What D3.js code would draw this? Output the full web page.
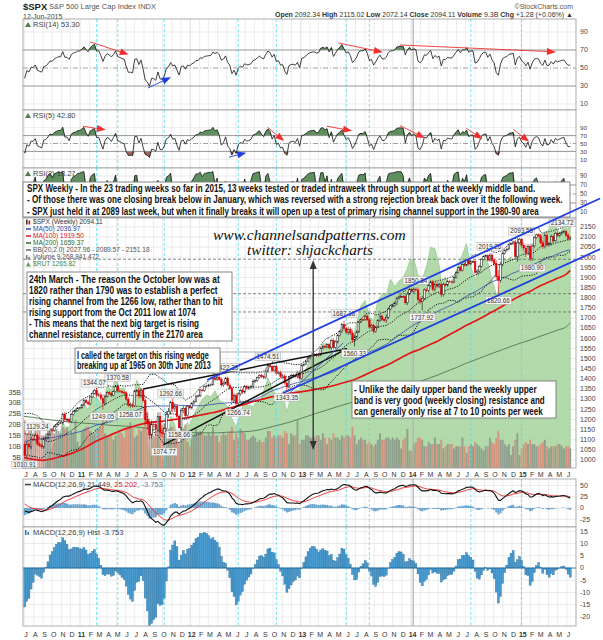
<!DOCTYPE html>
<html>
<head>
<meta charset="utf-8">
<script src="https://cdn.jsdelivr.net/npm/d3@7"></script>
<style>
  body { margin: 0; background: #fff; }
  svg { display: block; }
  text { font-family: "Liberation Sans", Arial, sans-serif; }
</style>
</head>
<body>
<div id="chart"></div>
<script>
// weekly closes Jul 2009 - Jun 2010, only used to warm up the indicators
var warmClose = [896.42, 879.13, 940.38, 979.26, 987.48, 1010.48, 1004.09, 1026.13, 1028.93, 1016.40, 1042.73, 1068.30, 1044.38, 1025.21, 1071.49, 1087.68, 1079.60, 1036.19, 1069.30, 1093.48, 1091.38, 1091.49, 1105.98, 1106.41, 1102.47, 1126.48, 1115.10,
  1144.98, 1136.03, 1091.76, 1073.87, 1066.19, 1075.51, 1109.17, 1104.49, 1138.70, 1149.99, 1159.90, 1166.59, 1178.10, 1194.37, 1192.13, 1217.28, 1186.69, 1110.88, 1135.68, 1087.69, 1089.41, 1064.88, 1091.60, 1117.51, 1076.76];

// weekly closes shown on the chart (2 Jul 2010 - 12 Jun 2015)
var close2010 = [1022.58, 1077.96, 1064.88, 1102.66, 1101.60, 1121.64, 1079.25, 1071.69, 1064.59, 1104.51, 1109.55, 1125.59, 1148.67, 1146.24, 1165.15, 1176.19, 1183.08, 1183.26, 1225.85, 1199.21, 1199.73, 1189.40, 1224.71, 1240.40, 1243.91, 1256.77, 1257.64];
var close2011 = [1271.50, 1293.24, 1283.35, 1276.34, 1310.87, 1329.15, 1343.01, 1319.88, 1321.15, 1304.28, 1279.20, 1313.80, 1332.41, 1328.17, 1319.68, 1337.38, 1363.61, 1340.20, 1337.77, 1333.27, 1331.10, 1300.16, 1270.98, 1271.50, 1268.45, 1339.67, 1343.80, 1316.14, 1345.02, 1292.28, 1199.38, 1178.81, 1123.53, 1176.80, 1173.97, 1154.23, 1216.01, 1136.43, 1131.42, 1155.46, 1224.58, 1238.25, 1285.09, 1253.23, 1263.85, 1215.65, 1158.67, 1244.28, 1255.19, 1219.66, 1265.33, 1257.60];
var close2012 = [1277.81, 1289.09, 1315.38, 1316.33, 1344.90, 1342.64, 1361.23, 1365.74, 1369.63, 1370.87, 1404.17, 1397.11, 1408.47, 1398.08, 1370.26, 1378.53, 1403.36, 1369.10, 1353.39, 1295.22, 1317.82, 1278.04, 1325.66, 1342.84, 1335.02, 1362.16, 1354.68, 1356.78, 1362.66, 1385.97, 1390.99, 1405.87, 1418.16, 1411.13, 1406.58, 1437.92, 1465.77, 1460.15, 1440.67, 1460.93, 1428.59, 1433.19, 1411.94, 1414.20, 1379.85, 1359.88, 1409.15, 1416.18, 1418.07, 1413.58, 1430.15, 1402.43];
var close2013 = [1466.47, 1472.05, 1485.98, 1502.96, 1513.17, 1517.93, 1519.79, 1515.60, 1518.20, 1551.18, 1560.70, 1556.89, 1569.19, 1553.28, 1588.85, 1555.25, 1582.24, 1614.42, 1633.70, 1667.47, 1649.60, 1630.74, 1643.38, 1626.73, 1592.43, 1606.28, 1631.89, 1680.19, 1692.09, 1691.65, 1709.67, 1691.42, 1655.83, 1663.50, 1632.97, 1655.17, 1687.99, 1709.91, 1691.75, 1690.50, 1703.20, 1744.50, 1759.77, 1761.64, 1770.61, 1798.18, 1804.76, 1805.81, 1805.09, 1775.32, 1818.32, 1841.40];
var close2014 = [1831.37, 1842.37, 1838.70, 1790.29, 1782.59, 1797.02, 1838.63, 1836.25, 1859.45, 1878.04, 1841.13, 1866.52, 1857.62, 1865.09, 1815.69, 1864.85, 1863.40, 1881.14, 1878.48, 1877.86, 1900.53, 1923.57, 1949.44, 1936.16, 1962.87, 1960.96, 1985.44, 1967.57, 1978.22, 1978.34, 1925.15, 1931.59, 1955.06, 1988.40, 2003.37, 2007.71, 1985.54, 2010.40, 1982.85, 1967.90, 1906.13, 1886.76, 1964.58, 2018.05, 2031.92, 2039.82, 2063.50, 2067.56, 2075.37, 2002.33, 2070.65, 2088.77];
var close2015 = [2058.20, 2044.81, 2019.42, 2051.82, 1994.99, 2055.47, 2096.99, 2110.30, 2104.50, 2071.26, 2053.40, 2108.10, 2061.02, 2066.96, 2102.06, 2081.18, 2117.69, 2108.29, 2116.10, 2122.73, 2126.06, 2107.39, 2092.83, 2094.11];

// weekly shadow beyond the candle body, points
var wick2010 = [12,14,10,12,8,10,9,8,9,10,7,8,6,7,8,6,7,6,9,10,8,9,7,6,5,4,4];
var wick2011 = [6,7,8,9,6,5,6,12,10,12,20,8,7,8,9,6,5,9,8,7,8,8,10,12,11,7,6,12,10,9,25,30,22,18,15,20,18,22,20,25,15,18,14,18,16,12,10,12,14,10,6,6];
var wick2012 = [8,7,6,7,6,5,6,5,6,7,5,6,6,8,10,9,7,8,9,10,11,12,10,9,10,8,9,10,8,12,6,5,4,6,7,7,8,6,6,6,8,7,8,10,9,12,6,7,7,8,10,12];
var wick2013 = [6,5,5,5,6,6,5,8,7,6,5,7,5,8,9,12,8,7,6,8,12,10,14,10,15,12,8,6,5,5,6,7,8,8,9,6,6,8,7,9,15,8,6,8,8,7,6,5,6,10,12,6];
var wick2014 = [7,8,7,12,15,12,8,8,9,8,10,9,10,10,14,10,8,9,8,7,6,6,6,6,6,6,6,8,7,6,10,9,8,6,5,6,7,8,10,12,18,30,12,10,6,5,5,4,7,10,25,6];
var wick2015 = [12,15,18,12,14,12,8,6,6,10,12,10,10,8,10,10,8,10,9,8,6,8,12,10];

// weekly volume, billions of shares
var vol2010 = [22,16,17,18,16,17,19,18,15,15,16,20,17,17,16,18,17,16,19,18,19,15,17,16,22,12,10];
var vol2011 = [17,18,19,19,17,16,16,18,18,19,24,16,15,15,16,13,15,17,17,16,14,18,19,21,19,14,15,18,17,19,24,26,21,17,15,17,20,22,20,19,16,18,19,19,17,17,12,21,18,20,12,10];
var vol2012 = [15,15,18,16,17,16,15,15,16,15,19,15,15,12,15,16,15,16,17,19,13,16,14,18,17,16,13,13,14,15,14,12,13,12,12,14,17,17,14,15,14,15,15,14,17,16,11,16,15,15,22,11];
var vol2013 = [13,13,15,15,14,14,14,15,15,13,16,14,11,14,13,16,14,14,13,15,14,15,15,14,19,15,11,13,14,13,13,11,12,11,10,11,13,16,13,13,14,14,13,14,13,14,13,9,13,14,18,8];
var vol2014 = [8,11,12,14,14,13,10,10,12,11,11,14,11,11,13,9,10,11,11,11,9,10,10,10,14,10,7,10,11,10,12,11,10,9,8,10,10,14,12,11,14,17,13,13,11,10,11,6,10,13,16,6];
var vol2015 = [9,11,12,11,13,11,11,10,10,11,12,13,10,9,10,10,10,11,11,10,9,10,10,9];

// monthly closes Sep 2006 - Jun 2015, used for the 100 and 200 week averages
var monthlyClose = [1336,1378,1401,1418,
  1438,1407,1421,1482,1531,1503,1455,1474,1527,1549,1481,1468,
  1379,1331,1323,1386,1400,1280,1267,1283,1166,969,896,903,
  826,735,798,873,919,919,987,1021,1057,1036,1096,1115,
  1074,1104,1169,1187,1089,1031,1102,1049,1141,1183,1181,1258,
  1286,1327,1326,1364,1345,1321,1292,1219,1131,1253,1247,1258,
  1312,1366,1408,1398,1310,1362,1379,1407,1441,1412,1416,1426,
  1498,1515,1569,1598,1631,1606,1686,1633,1682,1757,1806,1848,
  1783,1859,1872,1884,1924,1960,1931,2003,1972,2018,2068,2059,
  1995,2105,2068,2086,2107,2094];

// $RUT overlay
var rutPoints = [["2010-07-02",605],["2010-07-16",620],["2010-07-30",651],["2010-08-13",628],["2010-08-27",608],["2010-09-10",638],["2010-09-24",673],["2010-10-08",697],["2010-10-22",703],["2010-11-05",750],["2010-11-19",728],["2010-12-03",751],["2010-12-17",786],["2010-12-31",784],
  ["2011-01-14",800],["2011-01-28",782],["2011-02-11",815],["2011-02-25",814],["2011-03-11",800],["2011-03-18",793],["2011-04-01",846],["2011-04-15",830],["2011-04-29",865],["2011-05-13",835],["2011-05-27",839],["2011-06-10",790],["2011-06-24",800],["2011-07-08",858],["2011-07-22",835],["2011-08-05",745],["2011-08-19",664],["2011-09-02",706],["2011-09-16",713],["2011-09-30",644],["2011-10-07",660],["2011-10-21",705],["2011-10-28",765],["2011-11-11",744],["2011-11-25",667],["2011-12-09",735],["2011-12-23",749],["2011-12-30",741],
  ["2012-01-13",770],["2012-01-27",791],["2012-02-10",809],["2012-02-24",820],["2012-03-09",815],["2012-03-23",831],["2012-04-06",807],["2012-04-20",800],["2012-05-04",790],["2012-05-18",760],["2012-06-01",737],["2012-06-15",777],["2012-06-29",798],["2012-07-13",793],["2012-07-27",791],["2012-08-10",804],["2012-08-24",812],["2012-09-14",864],["2012-09-28",837],["2012-10-12",820],["2012-10-26",818],["2012-11-09",800],["2012-11-16",775],["2012-11-30",822],["2012-12-14",832],["2012-12-28",831],
  ["2013-01-04",875],["2013-01-18",886],["2013-02-01",911],["2013-02-15",925],["2013-03-01",914],["2013-03-15",951],["2013-03-28",952],["2013-04-12",941],["2013-04-19",907],["2013-05-03",956],["2013-05-17",995],["2013-05-31",984],["2013-06-14",978],["2013-06-21",960],["2013-07-05",1005],["2013-07-19",1049],["2013-08-02",1062],["2013-08-16",1021],["2013-08-30",1011],["2013-09-13",1062],["2013-09-27",1079],["2013-10-11",1076],["2013-10-25",1117],["2013-11-08",1098],["2013-11-22",1112],["2013-12-06",1121],["2013-12-20",1146],["2013-12-27",1163],
  ["2014-01-10",1169],["2014-01-24",1128],["2014-02-07",1117],["2014-02-21",1150],["2014-03-07",1199],["2014-03-21",1195],["2014-04-04",1153],["2014-04-11",1110],["2014-04-25",1122],["2014-05-09",1097],["2014-05-23",1124],["2014-06-06",1150],["2014-06-20",1180],["2014-07-03",1208],["2014-07-18",1151],["2014-08-01",1114],["2014-08-15",1144],["2014-08-29",1174],["2014-09-12",1160],["2014-09-26",1115],["2014-10-10",1080],["2014-10-17",1082],["2014-10-31",1174],["2014-11-14",1166],["2014-11-28",1173],["2014-12-12",1158],["2014-12-26",1216],
  ["2015-01-09",1190],["2015-01-16",1176],["2015-01-30",1165],["2015-02-13",1219],["2015-02-27",1233],["2015-03-13",1232],["2015-03-27",1240],["2015-04-10",1254],["2015-04-24",1256],["2015-05-08",1231],["2015-05-22",1256],["2015-06-05",1244],["2015-06-12",1266]];

// labelled weekly highs (h) and lows (l)
var extremes = [["2010-07-02",1010.91,"l"],["2010-08-13",1129.24,"h"],["2011-02-18",1344.07,"h"],["2011-03-18",1249.05,"l"],["2011-05-06",1370.58,"h"],["2011-06-17",1258.07,"l"],["2011-10-07",1074.77,"l"],["2011-10-28",1292.66,"h"],["2011-11-25",1158.66,"l"],["2012-04-06",1422.38,"h"],["2012-06-08",1266.74,"l"],["2012-09-14",1474.51,"h"],["2012-11-16",1343.35,"l"],["2013-05-24",1687.18,"h"],["2013-06-28",1560.33,"l"],["2014-01-17",1850.84,"h"],["2014-02-07",1737.92,"l"],["2014-09-19",2019.26,"h"],["2014-10-17",1820.66,"l"],["2015-01-02",2093.55,"h"],["2015-02-06",1980.90,"l"],["2015-05-22",2134.72,"h"]];

var cyanDates = ["2011-02-25","2011-05-06","2011-10-07","2012-06-08","2012-10-12","2013-05-31","2013-08-16","2014-07-18","2015-01-02"];
var levels = [1990, 1820, 1730];

// drawn annotations: [date1, value1, date2, value2, colour]
var rsi14Arrows = [["2011-02-04",79,"2011-06-05",65.6,"red"],["2011-08-14",27.8,"2011-10-23",38.9,"blue"],["2013-05-06",77.8,"2013-09-23",68,"red"],["2013-11-25",75.6,"2015-04-19",68,"red"]];
var rsi5Arrows = [["2011-01-10",93.8,"2011-03-21",85.4,"red"],["2012-05-08",15.3,"2012-06-28",25.4,"blue"],["2012-09-12",91,"2012-11-02",59.4,"red"],["2013-03-28",93.8,"2013-06-13",83,"red"],["2013-11-25",95.5,"2014-02-10",66,"red"],["2014-07-03",88.7,"2014-08-20",63.4,"red"],["2014-12-06",85.4,"2015-01-22",57.6,"red"]];
var channelLines = [["2012-02-26",1394.5,"2015-09-29",2296.8],["2012-11-04",1330.4,"2015-09-29",2046.8]];
var wedgeLines = [["2011-07-29",1350,"2013-06-03",1549],["2011-10-04",1074.77,"2013-06-03",1549]];
var thinBlueLines = [["2012-11-11",1310.7,"2013-05-21",1577]];
var targetArrow = ["2013-02-11",1976,1059];

var note1 = ["SPX Weekly - In the 23 trading weeks so far in 2015, 13 weeks tested or traded intraweek through support at the weekly middle band.",
  "- Of those there was one closing break below in January, which was reversed with a strong rejection break back over it the following week.",
  "- SPX just held it at 2089 last week, but when it finally breaks it will open up a test of primary rising channel support in the 1980-90 area"];
var note2 = ["24th March - The reason the October low was at", "1820 rather than 1790 was to establish a perfect", "rising channel from the 1266 low, rather than to hit", "rising support from the Oct 2011 low at 1074", "- This means that the next big target is rising", "channel resistance, currently in the 2170 area"];
var note3 = ["- Unlike the daily upper band the weekly upper", "band is very good (weekly closing) resistance and", "can generally only rise at 7 to 10 points per week"];
var note4 = ["I called the target on this rising wedge", "breaking up at 1965 on 30th June 2013"];

// ---------------------------------------------------------------
var W = 603, H = 640, L = 23, R = 576;
var parse = d3.timeParse("%Y-%m-%d");
var svg = d3.select("#chart").append("svg").attr("width", W).attr("height", H);

var weeks = d3.timeFriday.range(new Date(2010, 6, 1), new Date(2015, 5, 13));
var closes = [].concat(close2010, close2011, close2012, close2013, close2014, close2015);
var all = warmClose.concat(closes);
var W0 = warmClose.length;
var wicks = [].concat(wick2010, wick2011, wick2012, wick2013, wick2014, wick2015);
var vols = [].concat(vol2010, vol2011, vol2012, vol2013, vol2014, vol2015);

var x = d3.scaleTime().domain([new Date(2010, 5, 27), new Date(2015, 6, 1)]).range([23.2, R]);
var months = d3.timeMonth.range(new Date(2010, 6, 1), new Date(2015, 6, 1));

// indicators
function sma(a, n) {
    return a.map(function(d, i) { return i < n - 1 ? null : d3.mean(a.slice(i - n + 1, i + 1)); });
}
function sdev(a, n) {
    return a.map(function(d, i) {
        if (i < n - 1) return null;
        var s = a.slice(i - n + 1, i + 1), m = d3.mean(s);
        return Math.sqrt(d3.mean(s, function(v) { return (v - m) * (v - m); }));
    });
}
function ema(a, n) {
    var k = 2 / (n + 1), prev = null;
    return a.map(function(d) { prev = prev === null ? d : d * k + prev * (1 - k); return prev; });
}
function rsi(a, n) {
    var out = [null], ag = 0, al = 0;
    for (var i = 1; i < a.length; i++) {
        var ch = a[i] - a[i - 1], g = Math.max(ch, 0), l = Math.max(-ch, 0);
        if (i <= n) {
            ag += g / n; al += l / n;
            out.push(i === n ? 100 - 100 / (1 + ag / al) : null);
        } else {
            ag = (ag * (n - 1) + g) / n; al = (al * (n - 1) + l) / n;
            out.push(al === 0 ? 100 : 100 - 100 / (1 + ag / al));
        }
    }
    return out;
}
var ma50 = sma(all, 50).slice(W0);
var mid = sma(all, 20).slice(W0), sd = sdev(all, 20).slice(W0);
var bbUp = mid.map(function(m, i) { return m + 2 * sd[i]; });
var bbDn = mid.map(function(m, i) { return m - 2 * sd[i]; });
var e12 = ema(all, 12), e26 = ema(all, 26);
var macdAll = e12.map(function(d, i) { return d - e26[i]; });
var sigAll = ema(macdAll, 9);
var macd = macdAll.slice(W0), sig = sigAll.slice(W0);
var hist = macd.map(function(d, i) { return d - sig[i]; });
var r14 = rsi(all, 14).slice(W0), r5 = rsi(all, 5).slice(W0), r2 = rsi(all, 2).slice(W0);

var mStart = new Date(2006, 8, 1);
var maMonthly = [];
monthlyClose.forEach(function(c, k) {
    var d = d3.timeDay.offset(d3.timeMonth.offset(mStart, k + 1), -1);
    if (d > weeks[weeks.length - 1]) d = weeks[weeks.length - 1];
    if (k >= 45) maMonthly.push({date: d,
        ma100: d3.mean(monthlyClose.slice(k - 22, k + 1)),
        ma200: d3.mean(monthlyClose.slice(k - 45, k + 1))});
});

// candles
var fmt = d3.timeFormat("%Y-%m-%d");
var candles = weeks.map(function(d, i) {
    var o = all[W0 + i - 1], c = all[W0 + i];
    return {date: d, o: o, c: c, hi: Math.max(o, c) + wicks[i], lo: Math.min(o, c) - wicks[i], v: vols[i]};
});
extremes.forEach(function(e) {
    var i = weeks.findIndex(function(d) { return fmt(d) === e[0]; });
    if (i < 0) return;
    if (e[2] === "h") candles[i].hi = e[1]; else candles[i].lo = e[1];
});

// ---------------------------------------------------------------
var defs = svg.append("defs");
function clip(id, top, bottom) {
    defs.append("clipPath").attr("id", id).append("rect")
        .attr("x", L).attr("y", top).attr("width", R - L).attr("height", bottom - top);
    return "url(#" + id + ")";
}
function frame(g, top, bottom) {
    g.append("rect").attr("x", L).attr("y", top).attr("width", R - L).attr("height", bottom - top).attr("fill", "#fff");
    g.selectAll(".vg").data(months).enter().append("line")
        .attr("x1", function(d) { return x(d); }).attr("x2", function(d) { return x(d); })
        .attr("y1", top).attr("y2", bottom)
        .attr("stroke", function(d) { return d.getMonth() === 0 ? "#d6d6d6" : "#e9e9e9"; })
        .attr("stroke-width", 0.8);
}
function cyan(g, top, bottom) {
    g.selectAll(".cy").data(cyanDates).enter().append("line")
        .attr("x1", function(d) { return x(parse(d)); }).attr("x2", function(d) { return x(parse(d)); })
        .attr("y1", top).attr("y2", bottom)
        .attr("stroke", "#4fe0f0").attr("stroke-width", 0.8).attr("stroke-dasharray", "3,2");
    g.append("line").attr("x1", x(new Date(2014, 0, 8))).attr("x2", x(new Date(2014, 0, 8)))
        .attr("y1", top).attr("y2", bottom).attr("stroke", "#b0b0b0").attr("stroke-width", 1.2);
}
function border(g, top, bottom) {
    g.append("rect").attr("x", L).attr("y", top).attr("width", R - L).attr("height", bottom - top)
        .attr("fill", "none").attr("stroke", "#9a9a9a").attr("stroke-width", 0.8);
}
function rightTicks(g, y, ticks, size) {
    g.selectAll(".rt").data(ticks).enter().append("text")
        .attr("x", R + 4).attr("y", function(d) { return y(d) + 2.3; })
        .attr("font-size", size || 7).attr("fill", "#444")
        .text(function(d) { return d; });
}
function hgrid(g, y, ticks, color) {
    g.selectAll(".hg").data(ticks).enter().append("line")
        .attr("x1", L).attr("x2", R).attr("y1", function(d) { return y(d); }).attr("y2", function(d) { return y(d); })
        .attr("stroke", color || "#e6e6e6").attr("stroke-width", 0.8);
}
function arrow(g, x1, y1, x2, y2, color, width) {
    g.append("line").attr("x1", x1).attr("y1", y1).attr("x2", x2).attr("y2", y2)
        .attr("stroke", color).attr("stroke-width", width);
    var a = Math.atan2(y2 - y1, x2 - x1), s = 7, w = 3.5, ca = Math.cos(a), sa = Math.sin(a);
    var p = [[x2 + ca * 2, y2 + sa * 2],
             [x2 - ca * s + sa * w, y2 - sa * s - ca * w],
             [x2 - ca * s - sa * w, y2 - sa * s + ca * w]];
    g.append("path").attr("d", "M" + p.join("L") + "Z").attr("fill", color);
}
function panelLabel(g, top, icon, parts) {
    if (icon === "mount") {
        g.append("path").attr("d", "M25," + (top + 8) + "L28," + (top + 3) + "L31," + (top + 8) + "Z").attr("fill", "#4f7f4f");
    } else if (icon === "bar") {
        g.append("rect").attr("x", 25).attr("y", top + 3).attr("width", 1.5).attr("height", 5).attr("fill", "#2a78b0");
        g.append("rect").attr("x", 27.5).attr("y", top + 5).attr("width", 1.5).attr("height", 3).attr("fill", "#2a78b0");
    } else {
        g.append("line").attr("x1", 25).attr("x2", 31).attr("y1", top + 5.5).attr("y2", top + 5.5).attr("stroke", "#444").attr("stroke-width", 1.5);
    }
    var t = g.append("text").attr("x", 33).attr("y", top + 8).attr("font-size", 7.5).attr("fill", "#444");
    parts.forEach(function(p) { t.append("tspan").attr("fill", p[1] || "#444").text(p[0]); });
}
// squeeze a text horizontally to a given width with a transform, so its box matches what is drawn
function squeeze(t, tx, ty, width) {
    var nat = t.node().getComputedTextLength();
    t.attr("transform", "translate(" + tx + "," + ty + ") scale(" + (width / nat) + ",1)");
}

var colBlue = "#1f3fe0";

// ---------------------------------------------------------------
// header
svg.append("text").attr("x", 23).attr("y", 9.5).attr("font-size", 9.5).attr("font-weight", "bold").attr("fill", "#222").text("$SPX");
svg.append("text").attr("x", 49).attr("y", 9).attr("font-size", 7.5).attr("fill", "#555").text("S&P 500 Large Cap Index  INDX");
svg.append("text").attr("x", 23).attr("y", 18.5).attr("font-size", 7).attr("fill", "#444").text("12-Jun-2015");
svg.append("text").attr("x", 573).attr("y", 8.5).attr("font-size", 7).attr("fill", "#555").attr("text-anchor", "end").text("\u00a9StockCharts.com");
var hdr = svg.append("text").attr("x", 573).attr("y", 17).attr("font-size", 7).attr("fill", "#333").attr("text-anchor", "end");
[["Open", " 2092.34  "], ["High", " 2115.02  "], ["Low", " 2072.14  "], ["Close", " 2094.11  "], ["Volume", " 9.3B  "], ["Chg", " +1.28 (+0.06%) \u25b2"]].forEach(function(p) {
    hdr.append("tspan").attr("font-weight", "bold").text(p[0]);
    hdr.append("tspan").text(p[1]);
});

// RSI panels
function rsiPanel(vals, top, bottom, y, label, arrows, id, tickSize) {
    var g = svg.append("g");
    frame(g, top, bottom);
    hgrid(g, y, [10, 90]);
    cyan(g, top, bottom);
    var c = g.append("g").attr("clip-path", clip(id, top, bottom));
    var X = function(d, i) { return x(weeks[i]); };
    var def = function(d) { return d !== null; };
    c.append("path").datum(vals).attr("fill", "#5f8f5f")
        .attr("d", d3.area().defined(def).x(X).y0(y(70)).y1(function(d) { return y(Math.max(d, 70)); }));
    c.append("path").datum(vals).attr("fill", "#a0675a")
        .attr("d", d3.area().defined(def).x(X).y0(y(30)).y1(function(d) { return y(Math.min(d, 30)); }));
    [30, 70].forEach(function(v) {
        c.append("line").attr("x1", L).attr("x2", R).attr("y1", y(v)).attr("y2", y(v)).attr("stroke", "#8a8a8a").attr("stroke-width", 0.9);
    });
    c.append("line").attr("x1", L).attr("x2", R).attr("y1", y(50)).attr("y2", y(50))
        .attr("stroke", "#8a8a8a").attr("stroke-width", 0.8).attr("stroke-dasharray", "5,2,1,2");
    c.append("path").datum(vals).attr("fill", "none").attr("stroke", "#111").attr("stroke-width", 0.8)
        .attr("d", d3.line().defined(def).x(X).y(function(d) { return y(d); }));
    arrows.forEach(function(a) {
        arrow(c, x(parse(a[0])), y(a[1]), x(parse(a[2])), y(a[3]), a[4] === "red" ? "#f03030" : colBlue, 0.9);
    });
    panelLabel(g, top, "mount", label);
    border(g, top, bottom);
    rightTicks(g, y, [90, 70, 50, 30, 10], tickSize);
    return g;
}
var y14 = d3.scaleLinear().domain([10, 90]).range([104, 32]);
var y5 = d3.scaleLinear().domain([10, 90]).range([159.3, 127.7]);
var y2 = d3.scaleLinear().domain([10, 90]).range([212, 176]);
rsiPanel(r14, 19, 110, y14, [["RSI(14) 53.30"]], rsi14Arrows, "c14", 7);
rsiPanel(r5, 110, 168, y5, [["RSI(5) 42.80"]], rsi5Arrows, "c5", 6.2);
rsiPanel(r2, 168, 218, y2, [["RSI(2) 18.27"]], [], "c2", 6.4);

// main price panel
var MT = 218, MB = 468;
var yP = d3.scaleLinear().domain([1000, 2150]).range([460, 226.8]);
var yV = d3.scaleLinear().domain([0, 35]).range([MB, 392]);
var yR = d3.scaleLinear().domain([620, 1266]).range([473, 221]);
var gm = svg.append("g");
frame(gm, MT, MB);
hgrid(gm, yP, d3.range(1000, 2151, 50));
var cm = gm.append("g").attr("clip-path", clip("cm", MT, MB));

cm.append("path").datum(rutPoints).attr("fill", "#a6d39b").attr("fill-opacity", 0.85)
    .attr("stroke", "#8cc283").attr("stroke-width", 0.6)
    .attr("d", d3.area().x(function(d) { return x(parse(d[0])); }).y0(MB).y1(function(d) { return yR(d[1]); }));

cm.selectAll(".vol").data(candles).enter().append("rect")
    .attr("x", function(d) { return x(d.date) - 0.95; }).attr("width", 1.9)
    .attr("y", function(d) { return yV(d.v); }).attr("height", function(d) { return MB - yV(d.v); })
    .attr("fill", function(d) { return d.c < d.o ? "#d98878" : "#8a958a"; })
    .attr("fill-opacity", 0.85);

cyan(cm, MT, MB);
cm.selectAll(".lvl").data(levels).enter().append("line")
    .attr("x1", L).attr("x2", R).attr("y1", function(d) { return yP(d); }).attr("y2", function(d) { return yP(d); })
    .attr("stroke", "#666").attr("stroke-width", 0.8).attr("stroke-dasharray", "3,2");

var maLine = function(key) {
    return d3.line().curve(d3.curveMonotoneX).x(function(d) { return x(d.date); }).y(function(d) { return yP(d[key]); });
};
cm.append("path").datum(maMonthly).attr("fill", "none").attr("stroke", "#5f7f60").attr("stroke-width", 1).attr("d", maLine("ma200"));
cm.append("path").datum(maMonthly).attr("fill", "none").attr("stroke", "#e01818").attr("stroke-width", 1.7).attr("d", maLine("ma100"));
var wkLine = d3.line().defined(function(d) { return d !== null; })
    .x(function(d, i) { return x(weeks[i]); }).y(function(d) { return yP(d); });
cm.append("path").datum(ma50).attr("fill", "none").attr("stroke", "#3346a8").attr("stroke-width", 0.8).attr("d", wkLine);
[bbUp, mid, bbDn].forEach(function(s) {
    cm.append("path").datum(s).attr("fill", "none").attr("stroke", "#111").attr("stroke-width", 1)
        .attr("stroke-dasharray", "1.2,1.3").attr("d", wkLine);
});

// candles
var cg = cm.selectAll(".cdl").data(candles).enter().append("g");
cg.append("line")
    .attr("x1", function(d) { return x(d.date); }).attr("x2", function(d) { return x(d.date); })
    .attr("y1", function(d) { return yP(d.hi); }).attr("y2", function(d) { return yP(d.lo); })
    .attr("stroke", function(d) { return d.c < d.o ? "#e00000" : "#111"; }).attr("stroke-width", 0.6);
cg.append("rect")
    .attr("x", function(d) { return x(d.date) - 0.8; }).attr("width", 1.6)
    .attr("y", function(d) { return yP(Math.max(d.o, d.c)); })
    .attr("height", function(d) { return Math.max(0.6, Math.abs(yP(d.o) - yP(d.c))); })
    .attr("fill", function(d) { return d.c < d.o ? "#e00000" : "#fff"; })
    .attr("stroke", function(d) { return d.c < d.o ? "#e00000" : "#111"; }).attr("stroke-width", 0.5);

// trend lines
wedgeLines.forEach(function(l) {
    cm.append("line").attr("x1", x(parse(l[0]))).attr("y1", yP(l[1])).attr("x2", x(parse(l[2]))).attr("y2", yP(l[3]))
        .attr("stroke", "#111").attr("stroke-width", 1.5);
});
thinBlueLines.forEach(function(l) {
    cm.append("line").attr("x1", x(parse(l[0]))).attr("y1", yP(l[1])).attr("x2", x(parse(l[2]))).attr("y2", yP(l[3]))
        .attr("stroke", colBlue).attr("stroke-width", 0.8);
});
var ta = x(parse(targetArrow[0]));
arrow(gm, ta, yP(targetArrow[2]) - 5, ta, yP(targetArrow[1]), "#333", 0.9);
arrow(gm, ta, yP(targetArrow[1]) + 5, ta, yP(targetArrow[2]), "#333", 0.9);

// high / low labels; a label that would sit under the wedge note peeks out from its right edge
var wedgeBox = {x0: 75, x1: 220, y0: 348, y1: 373};
var lg = gm.append("g");
extremes.forEach(function(e) {
    var cx = x(parse(e[0])), cy = yP(e[1]) + (e[2] === "h" ? -7 : 7);
    var t = lg.append("text").attr("text-anchor", "middle").attr("font-size", 6.3).attr("fill", "#333").text(e[1].toFixed(2));
    var w = t.node().getComputedTextLength() + 3;
    cx = Math.max(Math.min(cx, R - w / 2 - 1), 13);
    if (cy > wedgeBox.y0 && cy < wedgeBox.y1 && cx - w / 2 < wedgeBox.x1 && cx + w / 2 > wedgeBox.x0) cx = wedgeBox.x1 + w / 2 - 6;
    t.attr("x", cx).attr("y", cy + 2.2);
    lg.insert("rect", "text").attr("x", cx - w / 2).attr("y", cy - 3.8).attr("width", w).attr("height", 7.6)
        .attr("fill", "#f6f6f6").attr("stroke", "#a8a8a8").attr("stroke-width", 0.5);
});

// legend
var legendRows = [["$SPX (Weekly) 2094.11", "#333", "candle"], ["MA(50) 2036.97", "#3346a8", "#3346a8"], ["MA(100) 1919.50", "#e01818", "#e01818"],
    ["MA(200) 1659.37", "#2f6a2f", "#2f6a2f"], ["BB(20,2.0) 2027.96 - 2089.57 - 2151.18", "#555", "#666"], ["Volume 9,268,841,472", "#555", "vol"], ["$RUT 1265.82", "#4c7f4c", "rut"]];
legendRows.forEach(function(r, i) {
    var yy = 222 + i * 7;
    if (r[2] === "candle") {
        gm.append("rect").attr("x", 26).attr("y", yy - 2.5).attr("width", 1.6).attr("height", 5).attr("fill", "#333");
        gm.append("rect").attr("x", 28.6).attr("y", yy - 1.5).attr("width", 1.6).attr("height", 4).attr("fill", "#e00000");
    } else if (r[2] === "vol") {
        gm.append("rect").attr("x", 26).attr("y", yy - 2).attr("width", 1.5).attr("height", 4.5).attr("fill", "#777");
        gm.append("rect").attr("x", 28.3).attr("y", yy).attr("width", 1.5).attr("height", 2.5).attr("fill", "#777");
    } else if (r[2] === "rut") {
        gm.append("path").attr("d", "M26," + (yy + 2.5) + "L28," + (yy - 2) + "L31," + (yy + 2.5) + "Z").attr("fill", "#6a9f62");
    } else {
        gm.append("line").attr("x1", 26).attr("x2", 31).attr("y1", yy).attr("y2", yy).attr("stroke", r[2]).attr("stroke-width", 1.5);
    }
    gm.append("text").attr("x", 33).attr("y", yy + 2.4).attr("font-size", 6.6).attr("fill", r[1]).text(r[0]);
});

// site watermark, italic serif
[["www.channelsandpatterns.com", 213, 240, 193], ["twitter: shjackcharts", 247, 255, 126]].forEach(function(w) {
    var t = gm.append("text").style("font-family", "'Liberation Serif', 'DejaVu Serif', serif")
        .attr("font-style", "italic").attr("font-size", 15).attr("fill", "#111").text(w[0]);
    squeeze(t, w[1], w[2], w[3]);
});

border(gm, MT, MB);
rightTicks(gm, yP, d3.range(1000, 2151, 50));
gm.selectAll(".vt").data([5, 10, 15, 20, 25, 30, 35]).enter().append("text")
    .attr("x", 21).attr("y", function(d) { return yV(d) + 2.5; }).attr("text-anchor", "end")
    .attr("font-size", 7).attr("fill", "#444").text(function(d) { return d + "B"; });

// text notes
function note(lines, bx, by, bw, bh, tx, ty, lh, lens) {
    var g = svg.append("g");
    g.append("rect").attr("x", bx).attr("y", by).attr("width", bw).attr("height", bh)
        .attr("fill", "#fff").attr("stroke", "#7a7a7a").attr("stroke-width", 0.9);
    lines.forEach(function(str, i) {
        var t = g.append("text").attr("font-size", 10).attr("font-weight", "bold").attr("fill", "#111").text(str);
        squeeze(t, tx, ty + i * lh, lens[i]);
    });
}
svg.append("rect").attr("x", 220).attr("y", 352).attr("width", 92).attr("height", 20)
    .attr("fill", "none").attr("stroke", "#9a9a9a").attr("stroke-width", 0.8);
note(note4, wedgeBox.x0, wedgeBox.y0, wedgeBox.x1 - wedgeBox.x0, wedgeBox.y1 - wedgeBox.y0, 77, 358.5, 10.5, [132, 134]);
note(note2, 27, 272, 205, 69, 29, 282.5, 11, [191, 189, 194, 167, 170, 174]);
note(note3, 352, 381, 204, 37, 354, 392.5, 11, [183, 191, 189]);
note(note1, 23, 182, 547, 35, 27, 191.5, 11.5, [509, 536, 512]);

// blue channel lines run past the plot edge
channelLines.forEach(function(l) {
    var x1 = x(parse(l[0])), y1 = yP(l[1]), x2 = x(parse(l[2])), y2 = yP(l[3]);
    var k = (600 - x1) / (x2 - x1);
    svg.append("line").attr("x1", x1).attr("y1", y1).attr("x2", 600).attr("y2", y1 + (y2 - y1) * k)
        .attr("stroke", colBlue).attr("stroke-width", 1.8);
});

// MACD panel
var AT = 479, AB = 527;
var yM = d3.scaleLinear().domain([-25, 50]).range([519.25, 485.5]);
var ga = svg.append("g");
frame(ga, AT, AB);
hgrid(ga, yM, [50, 25, 0, -25]);
cyan(ga, AT, AB);
var ca = ga.append("g").attr("clip-path", clip("ca", AT, AB));
ca.selectAll(".mh").data(hist).enter().append("rect")
    .attr("x", function(d, i) { return x(weeks[i]) - 1; }).attr("width", 2)
    .attr("y", function(d) { return Math.min(yM(d), yM(0)); })
    .attr("height", function(d) { return Math.abs(yM(d) - yM(0)); })
    .attr("fill", "#4b93c4").attr("fill-opacity", 0.85);
var mLine = d3.line().x(function(d, i) { return x(weeks[i]); }).y(function(d) { return yM(d); });
ca.append("path").datum(sig).attr("fill", "none").attr("stroke", "#f03a3a").attr("stroke-width", 1).attr("d", mLine);
ca.append("path").datum(macd).attr("fill", "none").attr("stroke", "#111").attr("stroke-width", 1.1).attr("d", mLine);
panelLabel(ga, AT, "line", [["MACD(12,26,9) 21.449, "], ["25.202", "#e02020"], [", "], ["-3.753", "#5a86b0"]]);
border(ga, AT, AB);
rightTicks(ga, yM, [50, 25, 0, -25]);

// MACD histogram panel
var HT = 527, HB = 626;
var yH = d3.scaleLinear().domain([-20, 15]).range([617, 531.25]);
var gh = svg.append("g");
frame(gh, HT, HB);
hgrid(gh, yH, d3.range(-20, 16, 5));
cyan(gh, HT, HB);
var ch = gh.append("g").attr("clip-path", clip("ch", HT, HB));
ch.selectAll(".hb").data(hist).enter().append("rect")
    .attr("x", function(d, i) { return x(weeks[i]) - 1; }).attr("width", 2)
    .attr("y", function(d) { return Math.min(yH(d), yH(0)); })
    .attr("height", function(d) { return Math.abs(yH(d) - yH(0)); })
    .attr("fill", "#4a9bd0").attr("stroke", "#1f6a9c").attr("stroke-width", 0.35);
ch.append("line").attr("x1", L).attr("x2", R).attr("y1", yH(0)).attr("y2", yH(0)).attr("stroke", "#1f6a9c").attr("stroke-width", 0.8);
panelLabel(gh, HT, "bar", [["MACD(12,26,9) Hist -3.753"]]);
border(gh, HT, HB);
rightTicks(gh, yH, d3.range(15, -21, -5));

// month labels, twice
var letters = "JFMAMJJASOND";
[476.5, 636.5].forEach(function(yy) {
    svg.selectAll(null).data(months).enter().append("text")
        .attr("x", function(d) { return x(d) + 1.5; }).attr("y", yy).attr("text-anchor", "middle")
        .attr("font-size", 7).attr("fill", "#333")
        .attr("font-weight", function(d) { return d.getMonth() === 0 ? "bold" : "normal"; })
        .text(function(d) { return d.getMonth() === 0 ? d3.timeFormat("%y")(d) : letters[d.getMonth()]; });
});
</script>
</body>
</html>
